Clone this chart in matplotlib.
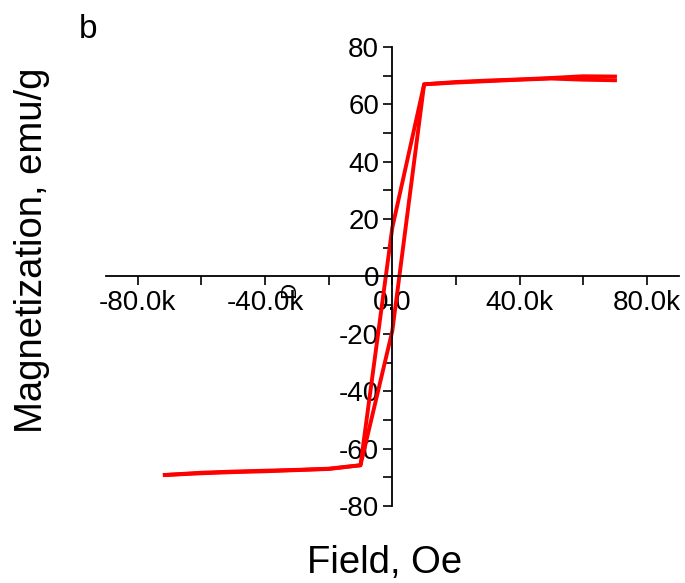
import numpy as np
import matplotlib
matplotlib.use('Agg')
import matplotlib.pyplot as plt
from matplotlib.ticker import MultipleLocator, FuncFormatter

plt.rcParams['font.family'] = ['Liberation Sans', 'DejaVu Sans']

# descending branch (from +H to -H)
H_desc = [70000, 60000, 50000, 40000, 30000, 20000, 10000, 0,
          -10000, -20000, -30000, -40000, -50000, -60000, -71500]
M_desc = [69.7, 69.8, 69.2, 68.7, 68.3, 67.8, 67.0, 17.0,
          -65.8, -67.0, -67.4, -67.7, -68.0, -68.4, -69.2]
# ascending branch (from -H to +H)
H_asc = [-71500, -60000, -50000, -40000, -30000, -20000, -10000, 0,
         10000, 20000, 30000, 40000, 50000, 60000, 70000]
M_asc = [-69.2, -68.6, -68.2, -67.9, -67.5, -67.1, -65.8, -19.0,
         67.0, 67.6, 68.1, 68.6, 69.0, 68.6, 68.4]

fig = plt.figure(figsize=(6.85, 5.83), dpi=100)
ax = fig.add_axes([0.1547, 0.1321, 0.836, 0.7873])

ax.plot(H_desc, M_desc, color='#ff0000', lw=2.8)
ax.plot(H_asc, M_asc, color='#ff0000', lw=2.8)

ax.set_xlim(-90000, 90000)
ax.set_ylim(-80, 80)

ax.spines['left'].set_position(('data', 0))
ax.spines['bottom'].set_position(('data', 0))
ax.spines['top'].set_visible(False)
ax.spines['right'].set_visible(False)
for s in ['left', 'bottom']:
    ax.spines[s].set_linewidth(1.3)

ax.xaxis.set_major_locator(MultipleLocator(40000))
ax.xaxis.set_minor_locator(MultipleLocator(20000))
ax.yaxis.set_major_locator(MultipleLocator(20))
ax.yaxis.set_minor_locator(MultipleLocator(10))


def kfmt(x, pos):
    if abs(x) < 1e-9:
        return '0.0'
    return '{:.1f}k'.format(x / 1000)


ax.xaxis.set_major_formatter(FuncFormatter(kfmt))
ax.yaxis.set_major_formatter(FuncFormatter(lambda y, p: '{:d}'.format(int(round(y)))))

ax.tick_params(which='both', direction='out', length=6.5, width=1.2,
               labelsize=20, pad=3)

fig.text(32 / 685, 1 - 250 / 583, 'Magnetization, emu/g', rotation=90,
         ha='center', va='center', fontsize=27.5)
fig.text(385 / 685, 1 - 563 / 583, 'Field, Oe', ha='center', va='center',
         fontsize=27.5)
fig.text(88 / 685, 1 - 30 / 583, 'b', ha='center', va='center', fontsize=24)
fig.text(290 / 685, 1 - 290 / 583, 'D', rotation=90, ha='center',
         va='center', fontsize=16)

fig.savefig('out.png', dpi=100)
